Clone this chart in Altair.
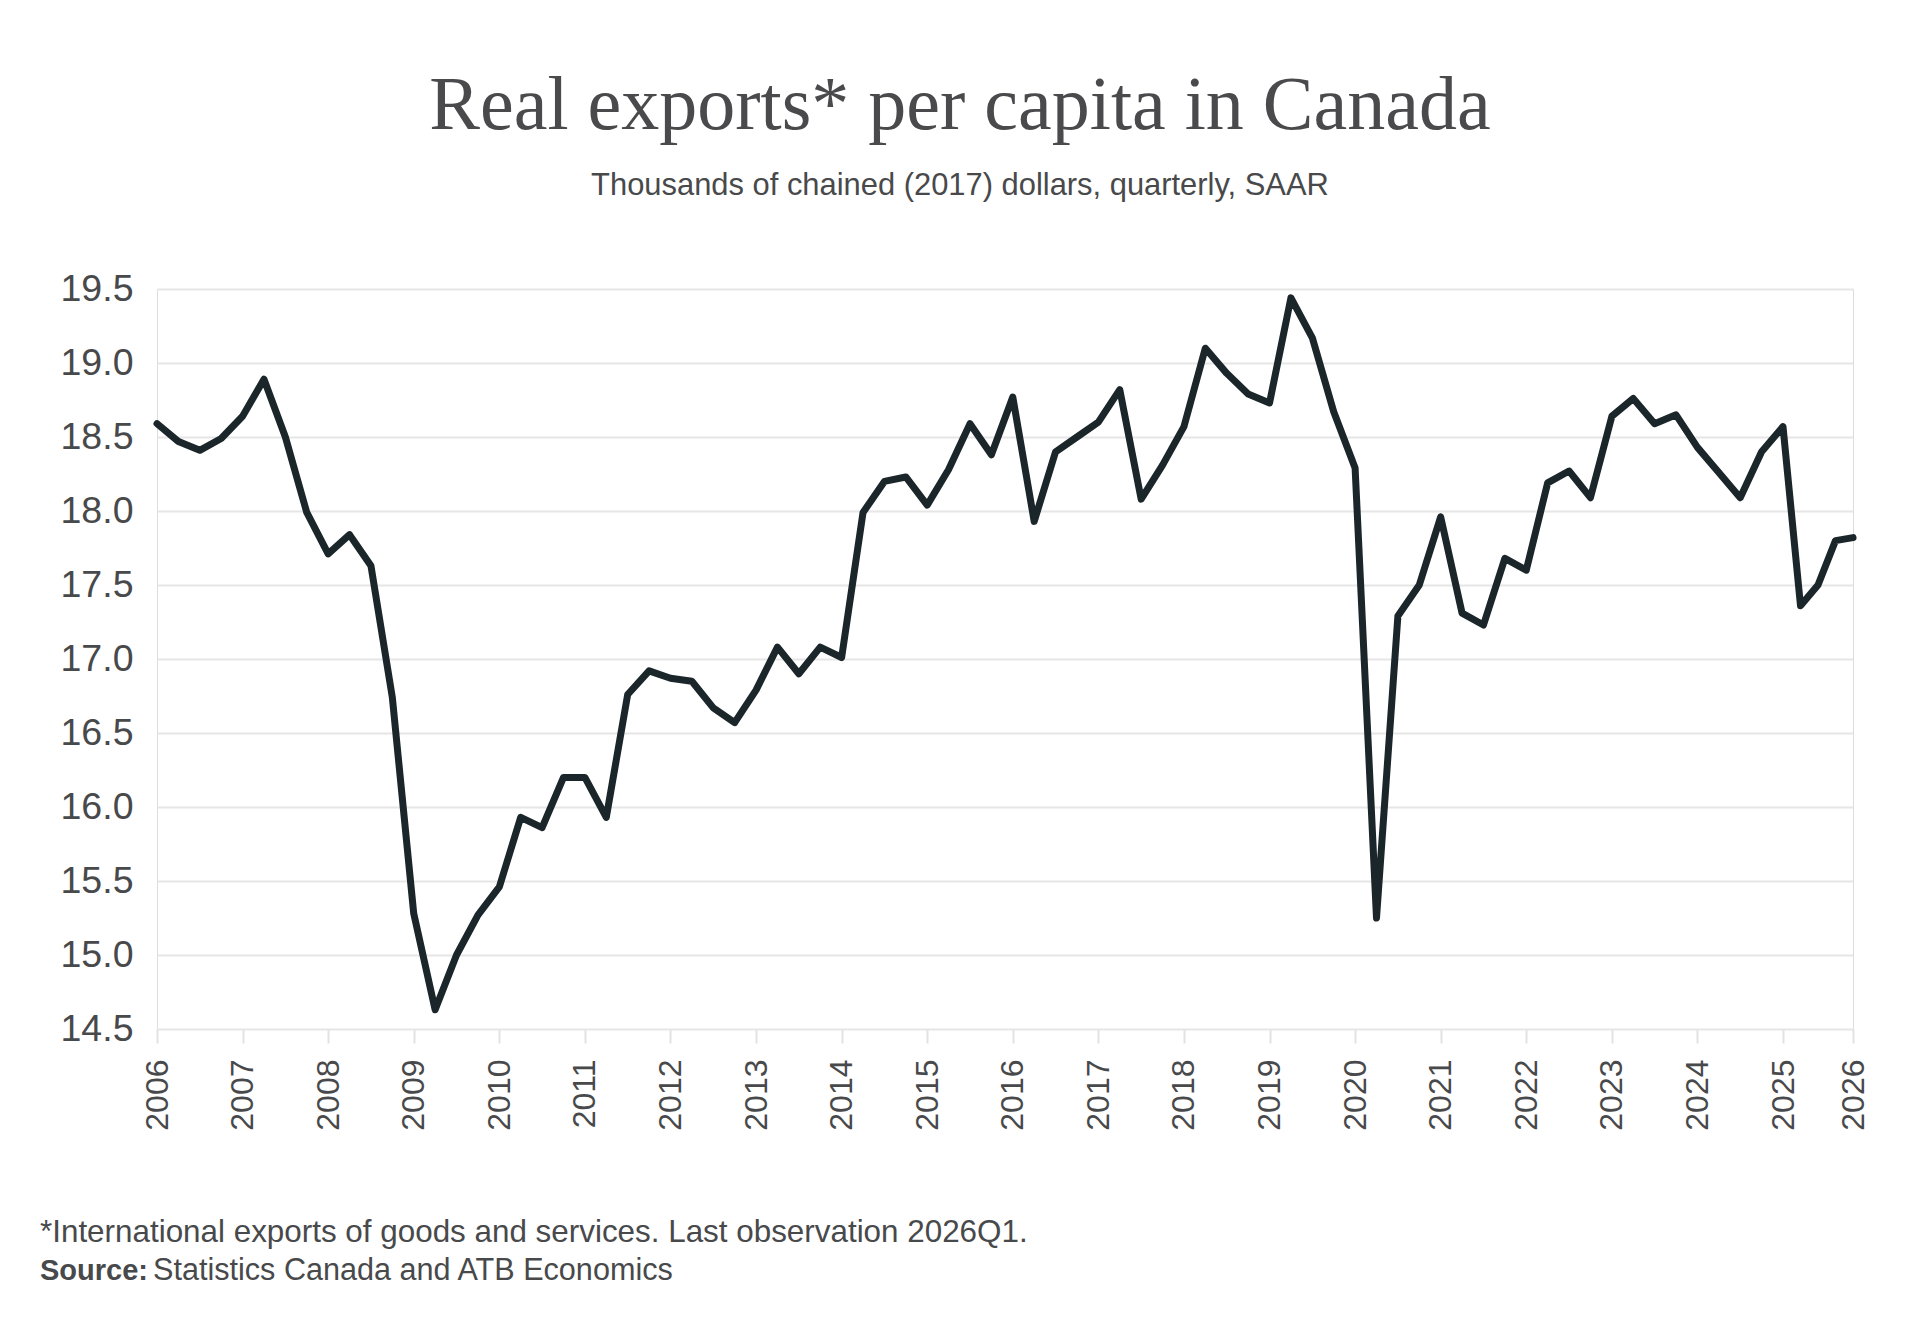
import altair as alt
import pandas as pd

# Quarterly observations, 2006Q1 to 2026Q1
quarters = [f"{y}Q{q}" for y in range(2006, 2027) for q in range(1, 5)][:81]

exports_per_capita = [
    18.59, 18.47, 18.41, 18.49, 18.64, 18.89, 18.50, 17.99,  # 2006-2007
    17.71, 17.84, 17.63, 16.74, 15.28, 14.63, 15.00, 15.27,  # 2008-2009
    15.46, 15.93, 15.86, 16.20, 16.20, 15.93, 16.76, 16.92,  # 2010-2011
    16.87, 16.85, 16.67, 16.57, 16.79, 17.08, 16.90, 17.08,  # 2012-2013
    17.01, 17.99, 18.20, 18.23, 18.04, 18.28, 18.59, 18.38,  # 2014-2015
    18.77, 17.93, 18.40, 18.50, 18.60, 18.82, 18.08, 18.31,  # 2016-2017
    18.57, 19.10, 18.93, 18.79, 18.73, 19.44, 19.17, 18.67,  # 2018-2019
    18.29, 15.25, 17.29, 17.50, 17.96, 17.31, 17.23, 17.68,  # 2020-2021
    17.60, 18.19, 18.27, 18.09, 18.64, 18.76, 18.59, 18.65,  # 2022-2023
    18.43, 18.26, 18.09, 18.40, 18.57, 17.36, 17.50, 17.80,  # 2024-2025
    17.82,                                                    # 2026
]

year_ticks = list(range(2006, 2027))
value_ticks = [14.5, 15.0, 15.5, 16.0, 16.5, 17.0, 17.5, 18.0, 18.5, 19.0, 19.5]

title_text = "Real exports* per capita in Canada"
subtitle_text = "Thousands of chained (2017) dollars, quarterly, SAAR"
note_text = "*International exports of goods and services. Last observation 2026Q1."
source_label = "Source:"
source_text = "Statistics Canada and ATB Economics"

df = pd.DataFrame({"quarter": quarters, "value": exports_per_capita})
df["period"] = df["quarter"].str[:4].astype(int) + (df["quarter"].str[-1].astype(int) - 1) / 4

W, H = 1696, 740
SANS = "Liberation Sans"
SERIF = "Liberation Serif"
TEXT_GREY = "#48494b"

line = alt.Chart(df).mark_line(
    color="#1b262b", strokeWidth=7, strokeJoin="round", strokeCap="round"
).encode(
    x=alt.X(
        "period:Q",
        scale=alt.Scale(domain=[2006, 2025, 2026], range=[0, 1626, W]),
        axis=alt.Axis(
            values=year_ticks, format="d", title=None, grid=False, domain=False,
            ticks=True, tickSize=14, tickWidth=2, tickColor="#e2e2e2",
            labelAngle=270, labelFont=SANS, labelFontSize=32, labelColor=TEXT_GREY,
            labelPadding=16, labelOverlap=False, labelFlush=False,
        ),
    ),
    y=alt.Y(
        "value:Q",
        scale=alt.Scale(domain=[14.5, 19.5], nice=False, zero=False),
        axis=alt.Axis(
            values=value_ticks, format=".1f", title=None, domain=False, ticks=False,
            grid=True, gridColor="#e6e6e6", gridWidth=2,
            labelFont=SANS, labelFontSize=37.5, labelColor=TEXT_GREY, labelPadding=24,
        ),
    ),
)

anchor = pd.DataFrame({"k": [0]})


def text_layer(text, x, y, size, font=SANS, weight="normal", align="left", color=TEXT_GREY):
    return alt.Chart(anchor).mark_text(
        text=text, font=font, fontSize=size, fontWeight=weight, align=align,
        baseline="alphabetic", color=color,
    ).encode(x=alt.value(x), y=alt.value(y))


title = text_layer(title_text, 803, -160, 76, font=SERIF, align="center", color="#4a4a4d")
subtitle = text_layer(subtitle_text, 803, -94, 30.9, align="center")
note = text_layer(note_text, -117, 953, 31.4)
source_bold = text_layer(source_label, -117, 991, 29, weight="bold")
source_rest = text_layer(source_text, -4, 991, 30.6)

chart = alt.layer(line, title, subtitle, note, source_bold, source_rest).properties(
    width=W,
    height=H,
    autosize=alt.AutoSizeParams(type="none"),
    padding={"left": 157, "top": 289, "right": 1920 - 157 - W, "bottom": 1333 - 289 - H},
).configure_view(stroke=None).configure(background="white")

chart.save("out.html", embed_options={"renderer": "svg", "actions": False})
